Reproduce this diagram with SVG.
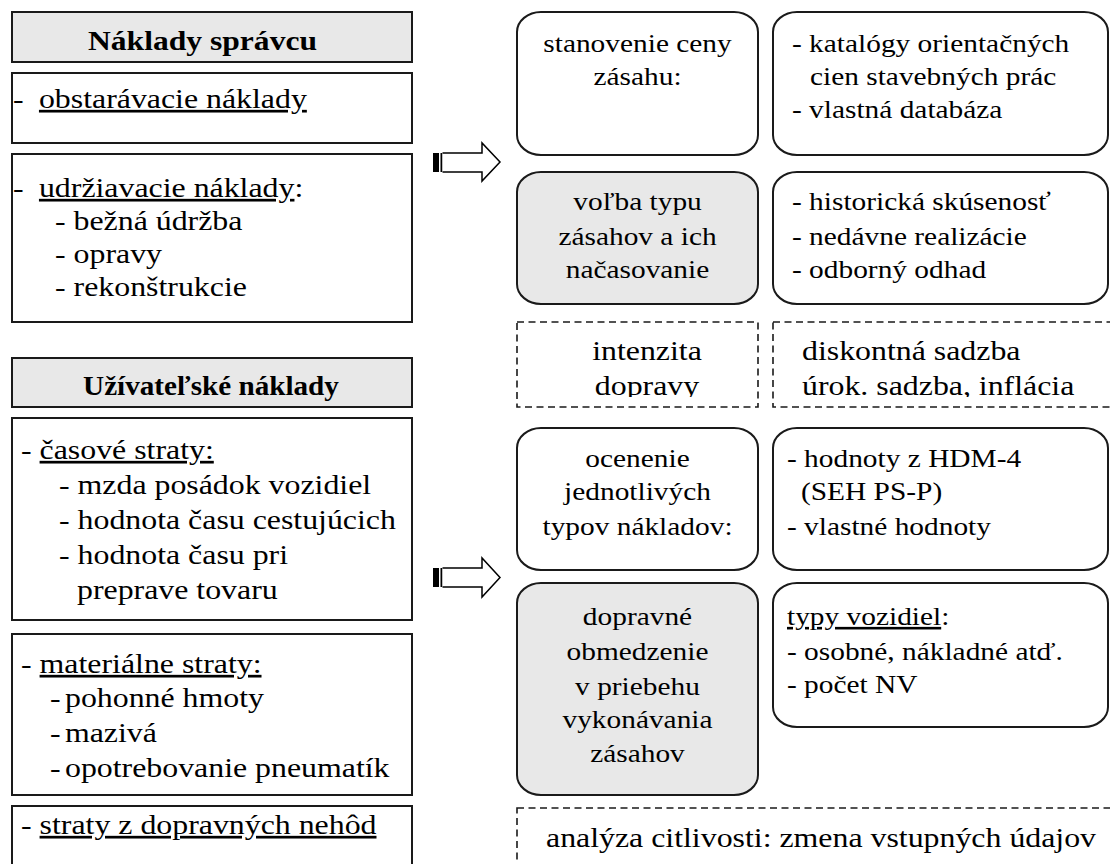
<svg xmlns="http://www.w3.org/2000/svg" width="1110" height="864" viewBox="0 0 1110 864">
<style>
.box{fill:#fff;stroke:#1a1a1a;stroke-width:2}
.grey{fill:#e8e8e8}
.dash{fill:none;stroke:#1a1a1a;stroke-width:1.6;stroke-dasharray:7 4.5}
text{font-family:"Liberation Serif","Times New Roman",serif;fill:#000}
.L{font-size:27px}
.H{font-size:27px;font-weight:bold;text-anchor:middle}
.R{font-size:26px}
.D{font-size:27px}
.m{text-anchor:middle}
.u{text-decoration:underline;text-underline-offset:5px}
.arrow{fill:#fff;stroke:#000;stroke-width:1.5;stroke-linejoin:miter}
</style>
<defs>
<clipPath id="clipRow3"><rect x="510" y="315" width="610" height="82"/></clipPath>
</defs>
<rect width="1110" height="864" fill="#fff"/>

<!-- Left column -->
<g id="hdr-spravca">
<rect class="box grey" x="12" y="12" width="400" height="50"/>
<text class="H" transform="translate(202.5,49.5) scale(1.17,1)">Náklady správcu</text>
</g>
<g id="obstaravacie">
<rect class="box" x="12" y="73" width="400" height="70"/>
<text class="L" transform="translate(13,108) scale(1.18,1)">-<tspan x="22" class="u">obstarávacie náklady</tspan></text>
</g>
<g id="udrziavacie">
<rect class="box" x="12" y="154" width="400" height="168"/>
<text class="L" transform="translate(13,197) scale(1.18,1)">-<tspan x="22" class="u">udržiavacie náklady</tspan>:</text>
<text class="L" transform="translate(55,230) scale(1.18,1)">- bežná údržba</text>
<text class="L" transform="translate(55,263) scale(1.18,1)">- opravy</text>
<text class="L" transform="translate(55,296) scale(1.18,1)">- rekonštrukcie</text>
</g>
<g id="hdr-uzivatel">
<rect class="box grey" x="12" y="358" width="400" height="49"/>
<text class="H" transform="translate(211,395) scale(1.08,1)">Užívateľské náklady</text>
</g>
<g id="casove">
<rect class="box" x="12" y="418" width="400" height="202"/>
<text class="L" transform="translate(21,459) scale(1.18,1)">- <tspan class="u">časové straty:</tspan></text>
<text class="L" transform="translate(59,494) scale(1.18,1)">- mzda posádok vozidiel</text>
<text class="L" transform="translate(59,529) scale(1.18,1)">- hodnota času cestujúcich</text>
<text class="L" transform="translate(59,564) scale(1.18,1)">- hodnota času pri</text>
<text class="L" transform="translate(77,599) scale(1.18,1)">preprave tovaru</text>
</g>
<g id="materialne">
<rect class="box" x="12" y="634" width="400" height="161"/>
<text class="L" transform="translate(21,673) scale(1.18,1)">- <tspan class="u">materiálne straty:</tspan></text>
<text class="L" transform="translate(50,707) scale(1.18,1)">-<tspan x="12.7">pohonné hmoty</tspan></text>
<text class="L" transform="translate(50,742) scale(1.18,1)">-<tspan x="12.7">mazivá</tspan></text>
<text class="L" transform="translate(50,777) scale(1.18,1)">-<tspan x="12.7">opotrebovanie pneumatík</tspan></text>
</g>
<g id="nehody">
<rect class="box" x="12" y="806" width="400" height="70"/>
<text class="L" transform="translate(21,834) scale(1.18,1)">- <tspan class="u">straty z dopravných nehôd</tspan></text>
</g>

<!-- Connectors (block arrows) -->
<g id="connectors">
<g id="arrow1">
<rect x="433" y="153" width="6" height="19" fill="#000"/>
<rect x="440.5" y="153" width="2" height="19" fill="#000"/>
<path class="arrow" d="M442.5 153 H482 V143 L500 162 L482 181 V172 H442.5"/>
</g>
<g id="arrow2">
<rect x="433" y="568" width="6" height="19" fill="#000"/>
<rect x="440.5" y="568" width="2" height="19" fill="#000"/>
<path class="arrow" d="M442.5 568 H482 V558 L500 577.5 L482 597 V587 H442.5"/>
</g>
</g>

<!-- Right side -->
<g id="stanovenie">
<rect class="box" x="517" y="12" width="241" height="143" rx="24" ry="20"/>
<text class="R m" transform="translate(637.5,52) scale(1.13,1)">stanovenie ceny</text>
<text class="R m" transform="translate(637.5,85) scale(1.13,1)">zásahu:</text>
</g>
<g id="katalogy">
<rect class="box" x="773" y="12" width="335" height="143" rx="24" ry="20"/>
<text class="R" transform="translate(792,52) scale(1.13,1)">- katalógy orientačných</text>
<text class="R" transform="translate(810,85) scale(1.13,1)">cien stavebných prác</text>
<text class="R" transform="translate(792,118) scale(1.13,1)">- vlastná databáza</text>
</g>
<g id="volba">
<rect class="box grey" x="517" y="172" width="241" height="132" rx="24" ry="20"/>
<text class="R m" transform="translate(637.5,210) scale(1.13,1)">voľba typu</text>
<text class="R m" transform="translate(637.5,245) scale(1.13,1)">zásahov a ich</text>
<text class="R m" transform="translate(637.5,278) scale(1.13,1)">načasovanie</text>
</g>
<g id="historicka">
<rect class="box" x="773" y="172" width="335" height="132" rx="24" ry="20"/>
<text class="R" transform="translate(792,210) scale(1.13,1)">- historická skúsenosť</text>
<text class="R" transform="translate(792,245) scale(1.13,1)">- nedávne realizácie</text>
<text class="R" transform="translate(792,278) scale(1.13,1)">- odborný odhad</text>
</g>
<g id="intenzita">
<rect class="dash" x="517" y="322" width="241" height="85"/>
<g clip-path="url(#clipRow3)">
<text class="D m" transform="translate(647,360) scale(1.18,1)">intenzita</text>
<text class="D m" transform="translate(647,395) scale(1.18,1)">dopravy</text>
</g>
</g>
<g id="diskontna">
<rect class="dash" x="773" y="322" width="350" height="85"/>
<g clip-path="url(#clipRow3)">
<text class="D" transform="translate(802,360) scale(1.18,1)">diskontná sadzba</text>
<text class="D" transform="translate(802,395) scale(1.18,1)">úrok. sadzba, inflácia</text>
</g>
</g>
<g id="ocenenie">
<rect class="box" x="517" y="428" width="241" height="142" rx="24" ry="20"/>
<text class="R m" transform="translate(637.5,467) scale(1.13,1)">ocenenie</text>
<text class="R m" transform="translate(637.5,500) scale(1.13,1)">jednotlivých</text>
<text class="R m" transform="translate(637.5,535) scale(1.13,1)">typov nákladov:</text>
</g>
<g id="hodnoty">
<rect class="box" x="773" y="428" width="335" height="142" rx="24" ry="20"/>
<text class="R" transform="translate(787,467) scale(1.13,1)">- hodnoty z HDM-4</text>
<text class="R" transform="translate(801,500) scale(1.13,1)">(SEH PS-P)</text>
<text class="R" transform="translate(787,535) scale(1.13,1)">- vlastné hodnoty</text>
</g>
<g id="obmedzenie">
<rect class="box grey" x="517" y="583" width="241" height="212" rx="24" ry="20"/>
<text class="R m" transform="translate(637.5,625) scale(1.13,1)">dopravné</text>
<text class="R m" transform="translate(637.5,660) scale(1.13,1)">obmedzenie</text>
<text class="R m" transform="translate(637.5,695) scale(1.13,1)">v priebehu</text>
<text class="R m" transform="translate(637.5,728) scale(1.13,1)">vykonávania</text>
<text class="R m" transform="translate(637.5,762) scale(1.13,1)">zásahov</text>
</g>
<g id="vozidla">
<rect class="box" x="773" y="583" width="335" height="144" rx="24" ry="20"/>
<text class="R" transform="translate(787,625) scale(1.13,1)"><tspan class="u">typy vozidiel</tspan>:</text>
<text class="R" transform="translate(787,660) scale(1.13,1)">- osobné, nákladné atď.</text>
<text class="R" transform="translate(787,693) scale(1.13,1)">- počet NV</text>
</g>
<g id="citlivost">
<rect class="dash" x="517" y="808" width="610" height="100"/>
<text class="D" transform="translate(546,847) scale(1.18,1)">analýza citlivosti: zmena vstupných údajov</text>
</g>
</svg>
